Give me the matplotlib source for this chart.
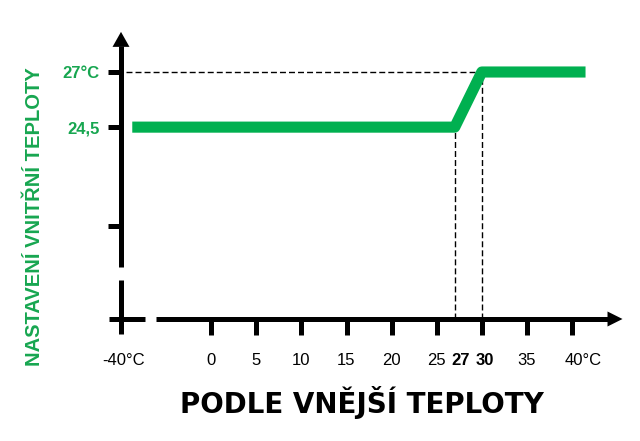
import numpy as np
import matplotlib
matplotlib.use("Agg")
import matplotlib.pyplot as plt
from matplotlib.transforms import ScaledTranslation

plt.rcParams['font.family'] = ['Liberation Sans', 'DejaVu Sans']

# ---- data ----
outdoor_temp = [-35, 27, 30, 41.5]          # outside temperature (°C)
setpoint = [24.5, 24.5, 27, 27]             # indoor setpoint (°C)
major_ticks = [0, 5, 10, 15, 20, 25, 30, 35, 40]
major_labels = ['0', '5', '10', '15', '20', '25', '30', '35', '40°C']
minor_ticks = [-40, 27]
minor_labels = ['-40°C', '27']
y_ticks = [20, 24.5, 27]
y_labels = ['', '24,5', '27°C']
thr_low, thr_high = 27, 30
sp_low, sp_high = 24.5, 27

GREEN = '#00b050'
TXT_GREEN = '#17a650'

fig = plt.figure(figsize=(6.4, 4.41), dpi=100)
ax = fig.add_axes([121/640, 1 - 319/441, 451/640, 247/441])

def fwd(t):
    t = np.asarray(t, dtype=float)
    return np.where(t < 0, t / 4.0, t)

def inv(p):
    p = np.asarray(p, dtype=float)
    return np.where(p < 0, p * 4.0, p)

ax.set_xscale('function', functions=(fwd, inv))
ax.set_xlim(-40, 40)
ax.set_ylim(15.8, 27)
for s in ax.spines.values():
    s.set_visible(False)
ax.patch.set_visible(False)

# axes lines (broken) and arrow heads
AX_LW = 3.6
y0 = 15.8
ax.plot([-45.2, -29.2], [y0, y0], color='black', lw=AX_LW, solid_capstyle='butt', clip_on=False)
ax.plot([-24.4, 43.96], [y0, y0], color='black', lw=AX_LW, solid_capstyle='butt', clip_on=False)
ax.plot([-40, -40], [15.14, 17.55], color='black', lw=AX_LW, solid_capstyle='butt', clip_on=False)
ax.plot([-40, -40], [18.14, 28.2], color='black', lw=AX_LW, solid_capstyle='butt', clip_on=False)
ax.annotate('', xy=(45.6, y0), xytext=(40, y0), annotation_clip=False,
            arrowprops=dict(arrowstyle='-|>,head_length=1.08,head_width=0.54',
                            mutation_scale=10, lw=0, color='black', shrinkA=0, shrinkB=0))
ax.annotate('', xy=(-40, 28.82), xytext=(-40, 26), annotation_clip=False,
            arrowprops=dict(arrowstyle='-|>,head_length=1.08,head_width=0.61',
                            mutation_scale=10, lw=0, color='black', shrinkA=0, shrinkB=0))

# dashed guide lines
ax.hlines(sp_high, -38, thr_high, colors='black', linestyles=(0, (4.3, 2.2)), lw=1, clip_on=False)
ax.vlines(thr_low, y0, sp_low, colors='black', linestyles=(0, (4.3, 2.2)), lw=1, clip_on=False)
ax.vlines(thr_high, y0, sp_high, colors='black', linestyles=(0, (4.3, 2.2)), lw=1, clip_on=False)

# heating curve
ax.plot(outdoor_temp, setpoint, color=GREEN, lw=8, solid_joinstyle='round',
        solid_capstyle='butt', clip_on=False, zorder=5)

# x ticks
ax.set_xticks(major_ticks, major_labels)
ax.set_xticks(minor_ticks, minor_labels, minor=True)
ax.tick_params(axis='x', which='major', direction='out', length=11.5, width=3.6,
               pad=13, labelsize=12, color='black')
ax.tick_params(axis='x', which='minor', direction='out', length=0, width=0,
               pad=24.5, labelsize=12)
for lbl in ax.get_xticklabels():
    if lbl.get_text() == '30':
        lbl.set_fontweight('bold')
        lbl.set_transform(lbl.get_transform() + ScaledTranslation(2/72, 0, fig.dpi_scale_trans))
    if lbl.get_text() == '40°C':
        lbl.set_transform(lbl.get_transform() + ScaledTranslation(8/72, 0, fig.dpi_scale_trans))
for lbl in ax.get_xticklabels(minor=True):
    if lbl.get_text() == '27':
        lbl.set_fontweight('bold')
        lbl.set_transform(lbl.get_transform() + ScaledTranslation(4/72, 0, fig.dpi_scale_trans))
    else:
        lbl.set_transform(lbl.get_transform() + ScaledTranslation(2/72, 0, fig.dpi_scale_trans))

# y ticks
ax.set_yticks(y_ticks, y_labels)
ax.tick_params(axis='y', direction='out', length=9.4, width=3.6, pad=5.8,
               labelsize=12, labelcolor=TXT_GREEN, color='black')
for lbl in ax.get_yticklabels():
    lbl.set_fontweight('bold')

# axis titles
ax.set_ylabel('NASTAVENÍ VNITŘNÍ TEPLOTY', fontsize=14.5, fontweight='bold',
              color=TXT_GREEN, va='center', ha='center')
ax.yaxis.set_label_coords((35 - 121) / 451, (319 - 217) / 247)
ax.set_xlabel('PODLE VNĚJŠÍ TEPLOTY', fontsize=20, fontweight='bold',
              family='DejaVu Sans', color='black', va='center', ha='center')
ax.xaxis.set_label_coords((362 - 121) / 451, (319 - 402.5) / 247)

fig.savefig('out.png', dpi=100)
